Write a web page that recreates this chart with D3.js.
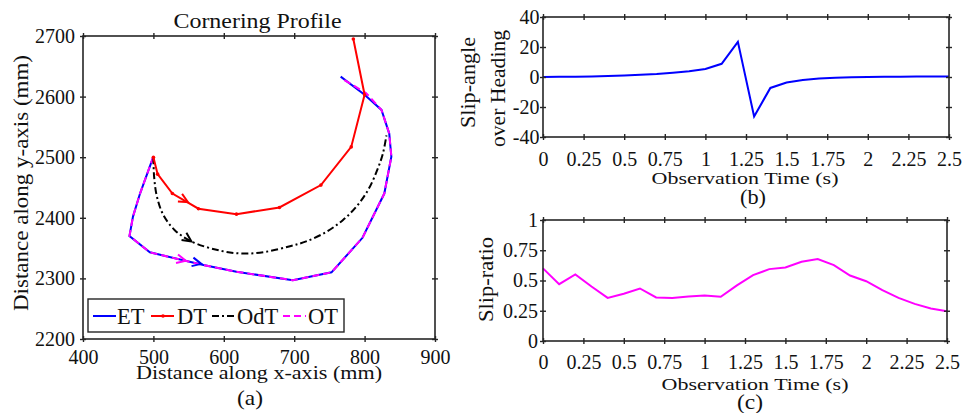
<!DOCTYPE html>
<html>
<head>
<meta charset="utf-8">
<script src="https://cdn.jsdelivr.net/npm/d3@7"></script>
<style>
  body { margin: 0; background: #fff; }
  text { font-family: "Liberation Serif", "Times New Roman", serif; fill: #111; }
</style>
</head>
<body>
<div id="chart"></div>
<script>
// ---- data ----
const etX = [500, 481, 471, 466, 495, 571, 618, 698, 753, 797, 828, 838, 835, 824, 800, 766];
const etY = [2501, 2440, 2402, 2370, 2343, 2322, 2311, 2297, 2310, 2367, 2440, 2501, 2539, 2578, 2603, 2633];

const dtX = [500, 506, 527, 564, 618, 679, 738, 781, 800, 784];
const dtY = [2500, 2472, 2440, 2415, 2406, 2417, 2454, 2517, 2603, 2695];

const odtX = [500, 501, 505, 514, 530, 554, 594, 627, 660, 694, 717, 746, 769, 788, 805, 818, 826, 831];
const odtY = [2500, 2468, 2435, 2405, 2380, 2361, 2346, 2341, 2344, 2353, 2361, 2377, 2396, 2418, 2446, 2479, 2506, 2536];

const otX = [500, 481, 471, 466, 495, 571, 618, 698, 753, 797, 828, 838, 835, 824, 802, 770];
const otY = [2501, 2440, 2402, 2370, 2343, 2322, 2311, 2297, 2310, 2367, 2440, 2501, 2539, 2578, 2606, 2628];

// arrow heads: [fromX, fromY, tipX, tipY]
const arrowsDT = [[527, 2440, 549, 2426]];
const arrowsOdT = [[530, 2380, 554, 2361]];
const arrowsET = [[495, 2343, 568, 2324]];
const arrowsOT = [[495, 2343, 546, 2329]];

const time = [0, 0.1, 0.2, 0.3, 0.4, 0.5, 0.6, 0.7, 0.8, 0.9, 1.0, 1.1, 1.2, 1.3, 1.4, 1.5, 1.6, 1.7, 1.8, 1.9, 2.0, 2.1, 2.2, 2.3, 2.4, 2.5];
const slipAngle = [0, 0.1, 0.2, 0.4, 0.7, 1.0, 1.5, 2.0, 2.9, 3.8, 5.3, 8.8, 23.4, -26.3, -7.3, -3.7, -2.0, -1.0, -0.5, -0.2, 0, 0.1, 0.2, 0.3, 0.3, 0.3];
const slipRatio = [0.60, 0.47, 0.55, 0.45, 0.356, 0.39, 0.434, 0.36, 0.356, 0.367, 0.376, 0.365, 0.46, 0.544, 0.594, 0.608, 0.655, 0.677, 0.627, 0.541, 0.494, 0.42, 0.356, 0.307, 0.268, 0.246];

const xTicksA = [400, 500, 600, 700, 800, 900];
const yTicksA = [2200, 2300, 2400, 2500, 2600, 2700];
const tTicks = [0, 0.25, 0.5, 0.75, 1, 1.25, 1.5, 1.75, 2, 2.25, 2.5];
const angTicks = [-40, -20, 0, 20, 40];
const ratioTicks = [0, 0.25, 0.5, 0.75, 1];

const svg = d3.select("#chart").append("svg")
  .attr("width", 973)
  .attr("height", 413);

const axisColor = "#262626";

// boxed axis, ticks cross the frame
function frame(g, x, y, xt, yt, xfmt, yfmt, xlabOff, ylabOff) {
  const [x0, x1] = x.range();
  const [y0, y1] = y.range();
  g.append("g").attr("class", "xb").attr("transform", "translate(0," + y0 + ")")
    .call(d3.axisBottom(x).tickValues(xt).tickSize(3).tickFormat(xfmt));
  g.append("g").attr("transform", "translate(0," + y1 + ")")
    .call(d3.axisTop(x).tickValues(xt).tickSize(-3).tickFormat(""));
  g.append("g").attr("class", "yl").attr("transform", "translate(" + x0 + ",0)")
    .call(d3.axisLeft(y).tickValues(yt).tickSize(3).tickFormat(yfmt));
  g.append("g").attr("transform", "translate(" + x1 + ",0)")
    .call(d3.axisRight(y).tickValues(yt).tickSize(-3).tickFormat(""));
  g.selectAll(".tick line").clone().attr("transform", "scale(-1)");
  g.selectAll(".domain").remove();
  g.selectAll(".tick line").attr("stroke", axisColor).attr("stroke-width", 1.4);
  g.selectAll(".xb .tick text").attr("dy", null).attr("y", xlabOff);
  g.selectAll(".yl .tick text").attr("x", -ylabOff);
  g.selectAll(".tick text").attr("font-size", 20).attr("fill", "#111")
    .attr("font-family", "Liberation Serif");
  g.append("rect").attr("x", x0).attr("y", y1).attr("width", x1 - x0).attr("height", y0 - y1)
    .attr("fill", "none").attr("stroke", axisColor).attr("stroke-width", 1.6);
}

// text stretched to the measured length, like the original export
function label(g, str, x, y, size, len, rot) {
  const t = g.append("text").attr("text-anchor", "middle").attr("font-size", size)
    .attr("textLength", len).attr("lengthAdjust", "spacingAndGlyphs").text(str);
  if (rot) t.attr("transform", "translate(" + x + "," + y + ") rotate(-90)");
  else t.attr("x", x).attr("y", y);
  return t;
}

function arrowHead(g, x, y, a, color) {
  const fx = x(a[0]), fy = y(a[1]), tx = x(a[2]), ty = y(a[3]);
  const ang = Math.atan2(ty - fy, tx - fx);
  const len = 10, spread = 0.45;
  const p1 = [tx - len * Math.cos(ang - spread), ty - len * Math.sin(ang - spread)];
  const p2 = [tx - len * Math.cos(ang + spread), ty - len * Math.sin(ang + spread)];
  g.append("path")
    .attr("d", "M" + p1 + "L" + tx + "," + ty + "L" + p2)
    .attr("fill", "none").attr("stroke", color).attr("stroke-width", 2);
}

// ---- (a) cornering profile ----
const xA = d3.scaleLinear().domain([400, 900]).range([83, 435]);
const yA = d3.scaleLinear().domain([2200, 2700]).range([339, 36]);
const gA = svg.append("g");

const pathA = (xs, ys, curve) => d3.line().curve(curve || d3.curveLinear)
  .x((d, i) => xA(xs[i])).y((d, i) => yA(ys[i]))(xs);

gA.append("path").attr("d", pathA(etX, etY)).attr("fill", "none")
  .attr("stroke", "#0000ff").attr("stroke-width", 2);
gA.append("path").attr("d", pathA(otX, otY)).attr("fill", "none")
  .attr("stroke", "#ff00ff").attr("stroke-width", 2).attr("stroke-dasharray", "7,4");
gA.append("path").attr("d", pathA(odtX, odtY, d3.curveCatmullRom)).attr("fill", "none")
  .attr("stroke", "#000").attr("stroke-width", 2).attr("stroke-dasharray", "7,3,2,3");
gA.append("path").attr("d", pathA(dtX, dtY)).attr("fill", "none")
  .attr("stroke", "#ff0000").attr("stroke-width", 2);
gA.selectAll(".dtpt").data(dtX).enter().append("circle")
  .attr("cx", (d) => xA(d)).attr("cy", (d, i) => yA(dtY[i])).attr("r", 1.8)
  .attr("fill", "#ff0000");

arrowsET.forEach(a => arrowHead(gA, xA, yA, a, "#0000ff"));
arrowsOT.forEach(a => arrowHead(gA, xA, yA, a, "#ff00ff"));
arrowsDT.forEach(a => arrowHead(gA, xA, yA, a, "#ff0000"));
arrowsOdT.forEach(a => arrowHead(gA, xA, yA, a, "#000"));

frame(gA, xA, yA, xTicksA, yTicksA, d3.format("d"), d3.format("d"), 25, 8);

label(gA, "Cornering Profile", 257.5, 28, 21.5, 168);
label(gA, "Distance along x-axis (mm)", 259, 379, 19, 246);
label(gA, "(a)", 250, 405, 22, 26);
label(gA, "Distance along y-axis (mm)", 28, 183, 21, 256, true);

// legend
const legend = gA.append("g");
legend.append("rect").attr("x", 88).attr("y", 299).attr("width", 256).attr("height", 33)
  .attr("fill", "#fff").attr("stroke", axisColor).attr("stroke-width", 1.4);
const legItems = [
  { name: "ET", color: "#0000ff", dash: null, x: 93, tx: 117 },
  { name: "DT", color: "#ff0000", dash: null, x: 151, tx: 177, dot: true },
  { name: "OdT", color: "#000", dash: "7,3,2,3", x: 212, tx: 237 },
  { name: "OT", color: "#ff00ff", dash: "7,4", x: 283, tx: 308 }
];
legItems.forEach(d => {
  legend.append("line").attr("x1", d.x).attr("x2", d.x + 23).attr("y1", 316).attr("y2", 316)
    .attr("stroke", d.color).attr("stroke-width", 2).attr("stroke-dasharray", d.dash);
  if (d.dot) legend.append("circle").attr("cx", d.x + 12).attr("cy", 316).attr("r", 1.8).attr("fill", d.color);
  legend.append("text").attr("x", d.tx).attr("y", 323.5).attr("font-size", 22.5).text(d.name);
});

// ---- (b) slip angle ----
const xB = d3.scaleLinear().domain([0, 2.5]).range([543, 949]);
const yB = d3.scaleLinear().domain([-40, 40]).range([137, 17]);
const gB = svg.append("g");
gB.append("path")
  .attr("d", d3.line().x((d, i) => xB(time[i])).y((d, i) => yB(slipAngle[i]))(time))
  .attr("fill", "none").attr("stroke", "#0000ff").attr("stroke-width", 2);
frame(gB, xB, yB, tTicks, angTicks, d => String(d), d => String(d), 28.5, 3.5);
label(gB, "Observation Time (s)", 745, 184, 17.5, 187);
label(gB, "(b)", 753, 204, 22, 26);
label(gB, "Slip-angle", 475, 82.5, 20, 91, true);
label(gB, "over Heading", 505, 88.5, 20, 117, true);

// ---- (c) slip ratio ----
const xC = d3.scaleLinear().domain([0, 2.5]).range([543, 947]);
const yC = d3.scaleLinear().domain([0, 1]).range([341, 220]);
const gC = svg.append("g");
gC.append("path")
  .attr("d", d3.line().x((d, i) => xC(time[i])).y((d, i) => yC(slipRatio[i]))(time))
  .attr("fill", "none").attr("stroke", "#ff00ff").attr("stroke-width", 2);
frame(gC, xC, yC, tTicks, ratioTicks, d => String(d), d => String(d), 28, 5);
label(gC, "Observation Time (s)", 755, 390, 17.5, 187);
label(gC, "(c)", 750, 409, 22, 26);
label(gC, "Slip-ratio", 493, 279.5, 20, 85, true);
</script>
</body>
</html>
